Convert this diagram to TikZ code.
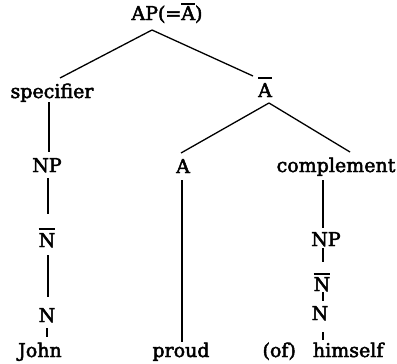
\documentclass[tikz,border=0pt]{standalone}
\usepackage{fontspec}
\newfontfamily\treefont{DejaVu Serif}[FakeBold=2.6]
\newcommand\mybar[2][3pt]{\leavevmode\vbox{\hrule height 1.8pt \kern #1\hbox{#2}}}
\begin{document}
\begin{tikzpicture}[x=1pt,y=-1pt,
  lab/.style={anchor=base,inner sep=0pt,font=\treefont\fontsize{19}{22}\selectfont},
  edge/.style={line width=1.3pt}]
\useasboundingbox (0,0) rectangle (397,364);
% labels
\node[lab] (ap) at (167,20) {AP(=\mybar[1pt]{A})};
\node[lab] (spec) at (52,98) {specifier};
\node[lab] (abar) at (265,97) {\mybar[4pt]{A}};
\node[lab] (npL) at (47,172) {NP};
\node[lab] (a) at (183,173) {A};
\node[lab] (comp) at (336,172) {complement};
\node[lab] (nbarL) at (47,247) {\mybar[3pt]{N}};
\node[lab] (nL) at (47,322) {N};
\node[lab] (john) at (40,357) {John};
\node[lab] (proud) at (181,357) {proud};
\node[lab] (npR) at (326,246) {NP};
\node[lab] (nbarR) at (322,291) {\mybar[2pt]{N}};
\node[lab] (nR) at (320,320) {N};
\node[lab] (himself) at (323,357) {(of)\hskip 0.9em himself};
% connector ends
\coordinate (ap-b) at (152,30);
\coordinate (spec-t) at (60,78);
\coordinate (abar-t) at (253,76);
\coordinate (abar-b) at (269,103);
\coordinate (a-t) at (181,153);
\coordinate (comp-t) at (350,152);
\coordinate (spec-b) at (49,102);
\coordinate (npL-t) at (49,152);
\coordinate (npL-b) at (48,178);
\coordinate (nbarL-t) at (48,214);
\coordinate (nbarL-b) at (48,255);
\coordinate (nL-t) at (48,297);
\coordinate (nL-b) at (47,328);
\coordinate (john-t) at (47,337);
\coordinate (a-b) at (182,180);
\coordinate (proud-t) at (182,342);
\coordinate (comp-b) at (323,180);
\coordinate (npR-t) at (323,228);
\coordinate (npR-b) at (323,248);
\coordinate (nbarR-t) at (323,262);
\coordinate (nbarR-b) at (323,292);
\coordinate (nR-t) at (323,301);
\coordinate (nR-b) at (323,332);
\coordinate (him-t) at (323,340);
% connectors
\draw[edge] (ap-b) -- (spec-t);
\draw[edge] (ap-b) -- (abar-t);
\draw[edge] (abar-b) -- (a-t);
\draw[edge] (abar-b) -- (comp-t);
\draw[edge] (spec-b) -- (npL-t);
\draw[edge] (npL-b) -- (nbarL-t);
\draw[edge] (nbarL-b) -- (nL-t);
\draw[edge] (nL-b) -- (john-t);
\draw[edge] (a-b) -- (proud-t);
\draw[edge] (comp-b) -- (npR-t);
\draw[edge] (npR-b) -- (nbarR-t);
\draw[edge] (nbarR-b) -- (nR-t);
\draw[edge] (nR-b) -- (him-t);
\end{tikzpicture}
\end{document}
